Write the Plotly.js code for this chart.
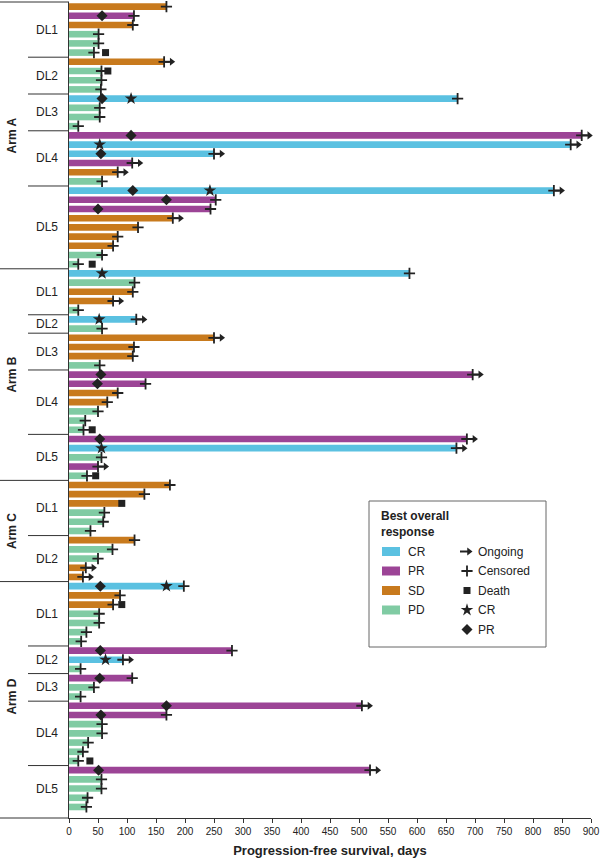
<!DOCTYPE html>
<html><head><meta charset="utf-8">
<script src="https://cdn.plot.ly/plotly-3.0.1.min.js"></script>
<style>html,body{margin:0;padding:0;background:#fff}</style>
</head><body><div id="chart" style="width:600px;height:863px"></div>
<script>
// ---------- DATA ----------
const groupArm  = ['Arm A','Arm A','Arm A','Arm A','Arm A','Arm B','Arm B','Arm B','Arm B','Arm B','Arm C','Arm C','Arm D','Arm D','Arm D','Arm D','Arm D'];
const groupDL   = ['DL1','DL2','DL3','DL4','DL5','DL1','DL2','DL3','DL4','DL5','DL1','DL2','DL1','DL2','DL3','DL4','DL5'];
const groupSize = [6,4,4,6,9, 5,2,4,7,5, 6,5, 7,3,3,7,5];

// one entry per patient row, top to bottom
const response = [
 'SD','PR','SD','PD','PD','PD',
 'SD','PD','PD','PD',
 'CR','PD','PD','PD',
 'PR','CR','CR','PR','SD','PD',
 'CR','PR','PR','SD','SD','SD','SD','PD','PD',
 'CR','PD','SD','SD','PD',
 'CR','PD',
 'SD','SD','SD','PD',
 'PR','PR','SD','SD','PD','PD','PD',
 'PR','CR','PD','PR','PD',
 'SD','SD','SD','PD','PD','PD',
 'SD','PD','PD','SD','SD',
 'CR','SD','SD','PD','PD','PD','PD',
 'PR','CR','PD',
 'PR','PD','PD',
 'PR','PR','PD','PD','PD','PD','PD',
 'PR','PD','PD','PD','PD'
];
const pfsDays = [
 168,112,110,51,51,43,
 164,56,56,55,
 670,53,53,16,
 884,865,250,109,84,57,
 836,253,244,179,119,84,76,57,16,
 587,113,110,76,16,
 116,57,
 250,112,110,53,
 696,132,84,66,50,28,25,
 686,668,56,50,31,
 174,130,87,61,59,37,
 113,75,50,29,24,
 198,88,76,52,52,30,21,
 281,93,20,
 109,43,20,
 505,168,57,57,33,24,16,
 519,56,56,32,30
];
const censored = [
 1,1,1,1,1,1,
 1,1,1,1,
 1,1,1,1,
 1,1,1,1,1,1,
 1,1,1,1,1,1,1,1,1,
 1,1,1,1,1,
 1,1,
 1,1,1,1,
 1,1,1,1,1,1,1,
 1,1,1,1,1,
 1,1,0,1,1,1,
 1,1,1,1,1,
 1,1,1,1,1,1,1,
 1,1,1,
 1,1,1,
 1,1,1,1,1,1,1,
 1,1,1,1,1
];
const ongoing = [
 0,0,0,0,0,0,
 1,0,0,0,
 0,0,0,0,
 1,1,1,1,1,0,
 1,0,0,1,0,0,0,0,0,
 0,0,0,1,0,
 1,0,
 1,0,0,0,
 1,0,0,0,0,0,0,
 1,1,0,1,0,
 0,0,0,0,0,0,
 0,0,0,1,1,
 0,0,0,0,0,0,0,
 0,1,0,
 0,0,0,
 1,0,0,0,0,0,0,
 1,0,0,0,0
];
const N = null;
const deathDay = [
 N,N,N,N,N,63,
 N,67,N,N,
 N,N,N,N,
 N,N,N,N,N,N,
 N,N,N,N,N,N,N,N,40,
 N,N,N,N,N,
 N,N,
 N,N,N,N,
 N,N,N,N,N,N,40,
 N,N,N,N,46,
 N,N,91,N,N,N,
 N,N,N,N,N,
 N,N,91,N,N,N,N,
 N,N,N,
 N,N,N,
 N,N,N,N,N,N,36,
 N,N,N,N,N
];
const crDay = [
 N,N,N,N,N,N,
 N,N,N,N,
 107,N,N,N,
 N,53,N,N,N,N,
 243,N,N,N,N,N,N,N,N,
 57,N,N,N,N,
 52,N,
 N,N,N,N,
 N,N,N,N,N,N,N,
 N,56,N,N,N,
 N,N,N,N,N,N,
 N,N,N,N,N,
 168,N,N,N,N,N,N,
 N,63,N,
 N,N,N,
 N,N,N,N,N,N,N,
 N,N,N,N,N
];
const prDay = [
 N,57,N,N,N,N,
 N,N,N,N,
 57,N,N,N,
 107,N,55,N,N,N,
 110,168,50,N,N,N,N,N,N,
 N,N,N,N,N,
 N,N,
 N,N,N,N,
 55,49,N,N,N,N,N,
 53,N,N,N,N,
 N,N,N,N,N,N,
 N,N,N,N,N,
 54,N,N,N,N,N,N,
 54,N,N,
 53,N,N,
 168,55,N,N,N,N,N,
 51,N,N,N,N
];
const xTicks = [0,50,100,150,200,250,300,350,400,450,500,550,600,650,700,750,800,850,900];
const respCats = ['CR','PR','SD','PD'];
const symbolLabels = ['Ongoing','Censored','Death','CR','PR'];

// ---------- STYLE / GEOMETRY ----------
const FONT = 'Liberation Sans, Arial, Helvetica, sans-serif';
const colors = {CR:'#5BC1E1', PR:'#9C4496', SD:'#C87A1D', PD:'#80CBA3'};
const INK = '#222222';
const L = 69, R = 591, T = 2, B = 818;
const XMAX = 900, YTOP = -0.5, YBOT = 88.2;
const px = x => (x - L) / (R - L);
const py = y => (B - y) / (B - T);
const dayAt = x => (x - L) / (R - L) * XMAX;
const rowAt = y => YTOP + (y - T) / (B - T) * (YBOT - YTOP);
const ARROW = 12;
const CROSS = {symbol:'cross-thin', size:8, line:{color:INK, width:1.8}};
const SQUARE = {symbol:'square', size:7, color:INK};
const STAR = {symbol:'star', size:9.5, color:INK};
const DIAM = {symbol:'diamond', size:8.5, color:INK};
const TIP = {symbol:'triangle-right', size:7, color:INK};

const rows = response.map((_, i) => i);
const traces = [];

respCats.forEach(cat => {
  const idx = rows.filter(i => response[i] === cat);
  traces.push({type:'bar', orientation:'h', x: idx.map(i => pfsDays[i]), y: idx,
    width: 0.72, marker:{color: colors[cat], line:{width:0}}, hoverinfo:'skip', showlegend:false});
});

function markTrace(xs, ys, marker) {
  return {type:'scatter', mode:'markers', x: xs, y: ys, marker: marker, hoverinfo:'skip', showlegend:false, cliponaxis:false};
}

// ongoing arrows
const ax = [], ay = [], tipX = [], tipY = [];
rows.forEach(i => { if (ongoing[i]) { ax.push(pfsDays[i], pfsDays[i] + ARROW, null); ay.push(i, i, null); tipX.push(pfsDays[i] + ARROW + 1); tipY.push(i); } });
traces.push({type:'scatter', mode:'lines', x: ax, y: ay, line:{color:INK, width:2}, hoverinfo:'skip', showlegend:false, cliponaxis:false});
traces.push(markTrace(tipX, tipY, TIP));

const dIdx = rows.filter(i => deathDay[i] !== null);
traces.push(markTrace(dIdx.map(i => deathDay[i]), dIdx, SQUARE));
const cIdx = rows.filter(i => censored[i]);
traces.push(markTrace(cIdx.map(i => pfsDays[i]), cIdx, CROSS));
const sIdx = rows.filter(i => crDay[i] !== null);
traces.push(markTrace(sIdx.map(i => crDay[i]), sIdx, STAR));
const pIdx = rows.filter(i => prDay[i] !== null);
traces.push(markTrace(pIdx.map(i => prDay[i]), pIdx, DIAM));

// ---------- LEFT LABELS & DIVIDERS ----------
const shapes = [], annotations = [];
let start = 0;
const armRange = {};
groupSize.forEach((n, g) => {
  const end = start + n - 1;
  annotations.push({xref:'paper', yref:'y', x: px(47), y: (start + end) / 2, text: groupDL[g],
    showarrow:false, xanchor:'center', yanchor:'middle', font:{family:FONT, size:12, color:INK}});
  const a = groupArm[g];
  if (!armRange[a]) armRange[a] = [start, end]; else armRange[a][1] = end;
  if (g < groupSize.length - 1) {
    const newArm = groupArm[g + 1] !== a;
    shapes.push({type:'line', xref:'paper', yref:'y', x0: px(newArm ? 0 : 28), x1: 0, y0: end + 0.5, y1: end + 0.5,
      line:{color:'#333', width:1}});
  }
  start = end + 1;
});
Object.keys(armRange).forEach(a => {
  const [s, e] = armRange[a];
  annotations.push({xref:'paper', yref:'y', x: px(12), y: (s + e) / 2, text: '<b>' + a + '</b>', textangle:-90,
    showarrow:false, xanchor:'center', yanchor:'middle', font:{family:FONT, size:12, color:INK}});
});
shapes.push({type:'line', xref:'paper', yref:'paper', x0: px(0), x1: 0, y0: 1, y1: 1, line:{color:'#333', width:1}});
shapes.push({type:'line', xref:'paper', yref:'paper', x0: px(0), x1: 0, y0: 0, y1: 0, line:{color:'#333', width:1}});

// ---------- CUSTOM LEGEND ----------
const legRows = [551.5, 571, 590.5, 610, 629.5];
shapes.push({type:'rect', xref:'paper', yref:'paper', x0: px(369), x1: px(546), y0: py(501), y1: py(647),
  line:{color:'#666', width:1}, fillcolor:'#fff', layer:'below'});
annotations.push({xref:'paper', yref:'paper', x: px(379), y: py(524), text:'<b>Best overall<br>response</b>',
  showarrow:false, xanchor:'left', yanchor:'middle', align:'left', font:{family:FONT, size:12, color:INK}});
respCats.forEach((cat, k) => {
  shapes.push({type:'rect', xref:'paper', yref:'paper', x0: px(382), x1: px(400), y0: py(legRows[k] - 4.5), y1: py(legRows[k] + 4.5),
    line:{width:0}, fillcolor: colors[cat]});
  annotations.push({xref:'paper', yref:'paper', x: px(406), y: py(legRows[k]), text: cat,
    showarrow:false, xanchor:'left', yanchor:'middle', font:{family:FONT, size:12, color:INK}});
});
symbolLabels.forEach((lab, k) => {
  annotations.push({xref:'paper', yref:'paper', x: px(476), y: py(legRows[k]), text: lab,
    showarrow:false, xanchor:'left', yanchor:'middle', font:{family:FONT, size:12, color:INK}});
});
const lx = dayAt(467);
traces.push({type:'scatter', mode:'lines', x:[dayAt(460), dayAt(468)], y:[rowAt(legRows[0]), rowAt(legRows[0])],
  line:{color:INK, width:2}, hoverinfo:'skip', showlegend:false, cliponaxis:false});
traces.push(markTrace([dayAt(469)], [rowAt(legRows[0])], TIP));
traces.push(markTrace([lx], [rowAt(legRows[1])], CROSS));
traces.push(markTrace([lx], [rowAt(legRows[2])], SQUARE));
traces.push(markTrace([lx], [rowAt(legRows[3])], STAR));
traces.push(markTrace([lx], [rowAt(legRows[4])], DIAM));

// ---------- LAYOUT ----------
const layout = {
  width:600, height:863,
  margin:{l:L, r:600 - R, t:T, b:863 - B, pad:0},
  paper_bgcolor:'#fff', plot_bgcolor:'rgba(0,0,0,0)',
  barmode:'overlay', showlegend:false,
  font:{family:FONT, color:INK},
  xaxis:{range:[0, XMAX], tickvals:xTicks, ticktext:xTicks.map(String), ticks:'outside', ticklen:4, tickwidth:1,
    tickcolor:'#333', showline:true, linecolor:'#333', linewidth:1, showgrid:false, zeroline:false,
    tickfont:{family:FONT, size:10, color:INK}, fixedrange:true,
    title:{text:'<b>Progression-free survival, days</b>', font:{family:FONT, size:13, color:INK}, standoff:9}},
  yaxis:{range:[YBOT, YTOP], showticklabels:false, ticks:'', showgrid:false, zeroline:false,
    showline:true, linecolor:'#333', linewidth:1, fixedrange:true},
  shapes: shapes, annotations: annotations
};
Plotly.newPlot('chart', traces, layout, {displayModeBar:false, staticPlot:true});
</script></body></html>
